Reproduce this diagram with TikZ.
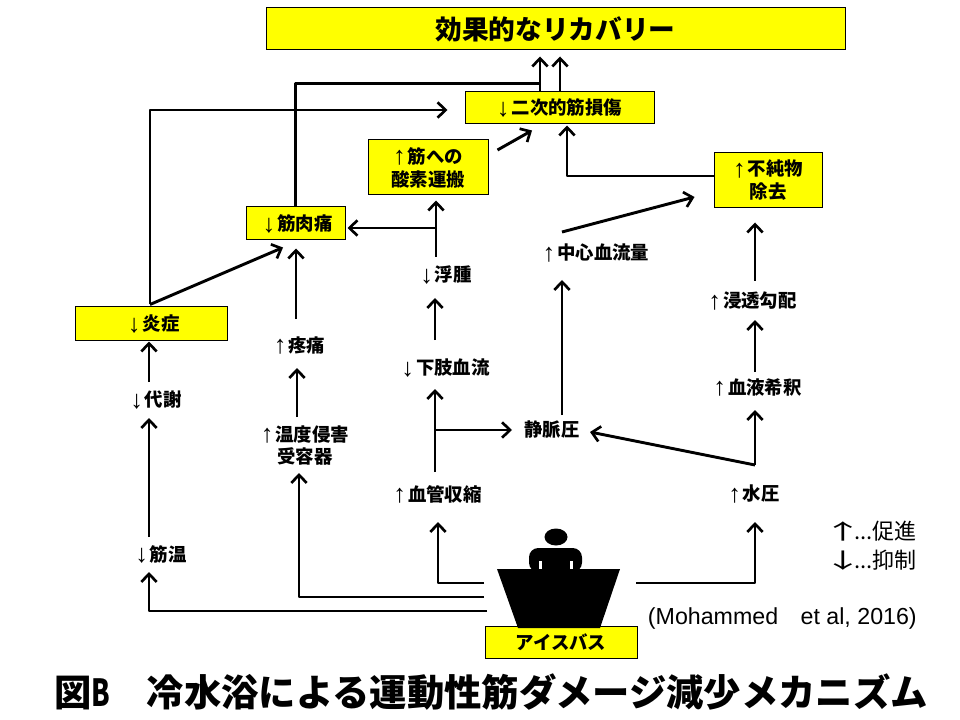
\documentclass[tikz,border=0pt]{standalone}
\usepackage{fontspec}
\usepackage{graphicx}
\usetikzlibrary{arrows.meta,calc}
\setmainfont{Noto Sans CJK JP}
\newfontfamily\arrfont{Liberation Sans}
\newfontfamily\citefont{Liberation Sans}
\newfontfamily\capfont{Noto Sans CJK JP Black}
\definecolor{boxy}{RGB}{255,255,0}
\newcommand{\upa}{\smash{\raisebox{-1.2pt}{\fontsize{19}{19}\arrfont\bfseries ↑}}\hspace{1.5pt}}
\newcommand{\dna}{\smash{\raisebox{-1.2pt}{\fontsize{19}{19}\arrfont\bfseries ↓}}\hspace{1.5pt}}
\newcommand{\legarrow}[1]{\makebox[16.5pt][c]{\scalebox{1.8}[.95]{#1}}}
\tikzset{
  bx/.style={draw=black,line width=0.75pt,fill=boxy,inner sep=0pt,align=center,font=\fontsize{13.8}{17.2}\selectfont\bfseries},
  lb/.style={inner sep=0pt,align=center,font=\fontsize{13.8}{17.2}\selectfont\bfseries},
  arr/.style={line width=2.2pt,line join=round,-{Straight Barb[length=6pt,width=11.5pt,line width=2pt]}},
  ln/.style={line width=2.2pt,line join=round},
  leg/.style={inner sep=0pt,anchor=west,font=\fontsize{16.5}{20}\selectfont},
}
\begin{document}
\begin{tikzpicture}[x=0.75pt,y=-0.75pt]
\useasboundingbox (0,0) rectangle (960,720);
\fill[white] (0,0) rectangle (960,720);
% boxes
\node[bx,minimum width=434.25pt,minimum height=31.5pt,font=\fontsize{20}{24}\selectfont\bfseries] (top) at (555.5,29) {効果的なリカバリー};
\node[bx,minimum width=141.75pt,minimum height=24pt] (sec) at (559.5,108) {\dna 二次的筋損傷};
\node[bx,minimum width=90pt,minimum height=41.25pt] (oxy) at (428,167.5) {\upa 筋への\\酸素運搬};
\node[bx,minimum width=81pt,minimum height=41.25pt] (imp) at (768,180.5) {\upa 不純物\\除去};
\node[bx,minimum width=74.25pt,minimum height=24.75pt] (ms) at (295.5,223.5) {\hspace{3pt}\dna 筋肉痛};
\node[bx,minimum width=114pt,minimum height=24.75pt] (inf) at (151,323.5) {\hspace{4pt}\dna 炎症};
\node[bx,minimum width=114pt,minimum height=24pt] (bath) at (561,642) {アイスバス};
% labels
\node[lb] (float) at (446,275) {\dna 浮腫};
\node[lb] (flow) at (596,253) {\upa 中心血流量};
\node[lb] (osm) at (752.5,301) {\upa 浸透勾配};
\node[lb] (pain) at (299.5,345) {\upa 疼痛};
\node[lb] (lower) at (445.5,368) {\dna 下肢血流};
\node[lb] (dil) at (757.5,387) {\upa 血液希釈};
\node[lb] (met) at (156,400) {\dna 代謝};
\node[lb] (therm) at (305,445.5) {\upa 温度侵害\\受容器};
\node[lb] (vein) at (552,430) {静脈圧};
\node[lb] (vaso) at (437.5,494) {\upa 血管収縮};
\node[lb] (hyd) at (754,494) {\upa 水圧};
\node[lb] (mtemp) at (161,554) {\dna 筋温};
% person in tub
\coordinate (tub) at (558,598);
\fill[black] (556,537) ellipse [x radius=11.5,y radius=8.5];
\fill[black,rounded corners=7pt] (529,572) -- (529,548) -- (582,548) -- (582,572) -- cycle;
\fill[black] (497,569) -- (620,569) -- (600,628) -- (518,628) -- cycle;
\fill[white] (539,561) rectangle (541.5,569);
\fill[white] (570,561) rectangle (572.5,569);
% connectors
\draw[arr] ($(sec.north)+(-19.5,0)$) -- ($(top.south)+(-15.5,6)$);
\draw[arr] ($(sec.north)+(0.5,0)$) -- ($(top.south)+(4.5,6)$);
\draw[ln] (ms.north) |- ($(sec.north)+(-19.5,-8)$);
\draw[arr] ($(inf.north)+(-1,-2)$) |- ($(sec.west)+(-17,2)$);
\draw[arr] ($(inf.north)+(-1,-2)$) -- ($(ms.south)+(-12.5,7)$);
\draw[arr] ($(pain.center)+(-3.5,-26)$) -- ($(ms.south)+(0.5,8)$);
\draw[arr] ($(float.center)+(-10,-18)$) -- ($(oxy.south)+(8,5)$);
\draw[arr] ($(float.center)+(-10,-47)$) -- ($(ms.east)+(2,4.5)$);
\draw[arr] ($(lower.center)+(-10.5,-28)$) -- ($(float.center)+(-11,23)$);
\draw[arr] ($(oxy.east)+(9,-17.5)$) -- ($(sec.south)+(-27.5,6)$);
\draw[arr] ($(imp.west)+(0,-4.5)$) -| ($(sec.south)+(7.5,1)$);
\draw[arr] ($(flow.center)+(-34,-21)$) -- ($(imp.west)+(-19,16.5)$);
\draw[arr] ($(vein.center)+(10,-15)$) -- ($(flow.center)+(-34,27)$);
\draw[arr] ($(osm.center)+(2.5,-20)$) -- ($(imp.south)+(-13,14)$);
\draw[arr] ($(dil.center)+(-2.5,-15)$) -- ($(osm.center)+(2.5,19)$);
\draw[arr] ($(hyd.center)+(1,-29)$) -- ($(dil.center)+(-2.5,23)$);
\draw[arr] ($(hyd.center)+(1,-29)$) -- ($(vein.center)+(38,2)$);
\draw[arr] ($(vaso.center)+(-2.5,-22)$) -- ($(lower.center)+(-10.5,21)$);
\draw[arr] ($(vaso.center)+(-2.5,-64)$) -- ($(vein.center)+(-40,0)$);
\draw[arr] ($(tub)+(78,-15)$) -| ($(hyd.center)+(1,28)$);
\draw[arr] ($(tub)+(-74,-15)$) -| ($(vaso.center)+(0.5,28)$);
\draw[arr] ($(tub)+(-74,-1)$) -| ($(therm.center)+(-6,27.5)$);
\draw[arr] ($(tub)+(-71,13)$) -| ($(mtemp.center)+(-12,18)$);
\draw[arr] ($(mtemp.center)+(-12,-17)$) -- ($(met.center)+(-7,18)$);
\draw[arr] ($(met.center)+(-7,-18)$) -- ($(inf.south)+(-2,1)$);
\draw[arr] ($(therm.center)+(-8,-28.5)$) -- ($(pain.center)+(-2.5,23)$);
% legend, citation, caption
\node[leg] (legup) at (832,531) {\legarrow{↑}...促進};
\node[leg] (legdn) at (832,560) {\legarrow{↓}...抑制};
\node[inner sep=0pt,anchor=east,font=\fontsize{17.4}{20}\citefont] (cite) at (917,618) {(Mohammed\hspace{12pt} et al, 2016)};
\node[inner sep=0pt,anchor=west,font=\fontsize{28}{32}\capfont] (cap) at (54,692) {図\scalebox{.72}[1]{B}　\hspace{-0.5pt}冷水浴による運動性筋ダメージ減少メカニズム};
\end{tikzpicture}
\end{document}
